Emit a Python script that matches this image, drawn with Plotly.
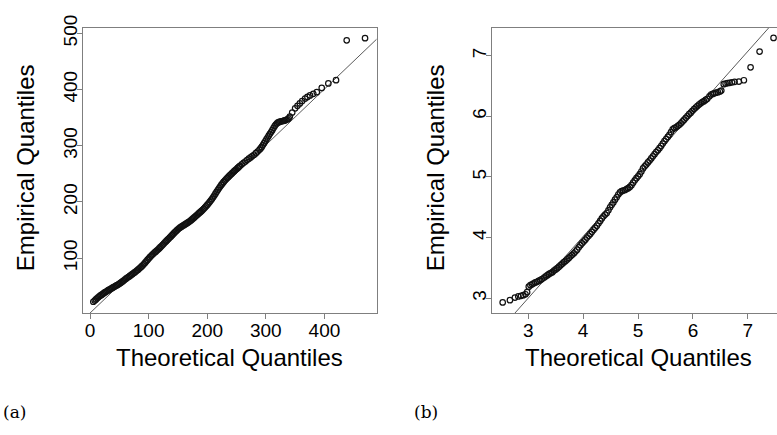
import plotly.graph_objects as go

# ---------------- data ----------------
# Panel (a): theoretical vs empirical quantiles
a_theo = [5.6, 8, 10, 12, 14, 16, 18, 20, 22, 24, 26, 28, 30, 32, 34, 36, 38, 40, 42, 44,
          46, 48, 50, 52, 54, 56, 58, 60, 62, 64, 66, 68, 70, 72, 74, 76, 78, 80, 82, 84,
          86, 88, 90, 92, 94, 96, 98, 100, 102, 104, 106, 108, 110, 112, 114, 116, 118, 120, 122, 124,
          126, 128, 130, 132, 134, 136, 138, 140, 142, 144, 146, 148, 150, 152, 154, 156, 158, 160, 162, 164,
          166, 168, 170, 172, 174, 176, 178, 180, 182, 184, 186, 188, 190, 192, 194, 196, 198, 200, 202, 204,
          206, 208, 210, 212, 214, 216, 218, 220, 222, 224, 226, 228, 230, 232, 234, 236, 238, 240, 242, 244,
          246, 248, 250, 252, 254, 256, 259, 262, 265, 268, 271, 274, 277, 280, 283, 286, 289, 291, 293, 295,
          297, 299, 301, 303, 305, 307, 309, 311, 313, 315, 317, 319, 321, 323, 325, 327, 329, 331, 333, 335,
          337, 339, 341, 345, 350, 354, 358, 362, 367, 371, 375.4, 381, 387, 395.4, 406.7, 419.8, 438, 469.3]
a_emp = [22.3, 24.5, 26.5, 28.5, 30.3, 32, 33.5, 35, 36.5, 38, 39.3, 40.6, 42, 43.3, 44.5, 45.7, 47, 48.2, 49.4, 50.6,
         51.8, 53, 54.3, 55.8, 57.4, 59, 60.6, 62.2, 63.8, 65.3, 66.8, 68.3, 69.8, 71.4, 73, 74.6, 76.2, 77.8, 79.5, 81.3,
         83.2, 85.2, 87.3, 89.5, 91.8, 94.2, 96.7, 99.2, 101.6, 103.8, 105.8, 107.7, 109.6, 111.5, 113.4, 115.3, 117.3, 119.4, 121.6, 123.8,
         126, 128.1, 130.2, 132.3, 134.4, 136.5, 138.6, 140.8, 143, 145.2, 147.3, 149.3, 151.2, 153, 154.6, 156, 157.4, 158.7, 160, 161.3,
         162.6, 164, 165.5, 167.1, 168.8, 170.6, 172.5, 174.4, 176.3, 178.1, 179.9, 181.7, 183.6, 185.6, 187.7, 189.9, 192.2, 194.6, 197.1, 199.7,
         202.4, 205.2, 208.2, 211.4, 214.7, 218, 221.2, 224.3, 227.3, 230.2, 233, 235.6, 238, 240.3, 242.5, 244.6, 246.7, 248.7, 250.7, 252.7,
         254.7, 256.7, 258.6, 260.5, 262.4, 264.3, 267, 269.6, 272, 274.5, 277, 279.3, 281.6, 284, 286.8, 289.8, 292.8, 295.3, 298, 301.2,
         304.6, 308, 311.4, 314.7, 318, 321.2, 324.4, 327.8, 331.4, 334.8, 337.8, 340, 341.6, 342.5, 343.1, 343.6, 344.1, 344.7, 345.4, 346.2,
         347.2, 348.8, 352, 359, 366.6, 371, 375.3, 379.5, 384, 387, 389.6, 392.5, 395.3, 403, 411, 416.8, 487.6, 491.5]

# Panel (b)
b_theo = [2.535, 2.667, 2.758, 2.82, 2.87, 2.91, 2.95, 2.98, 3.01, 3.04, 3.07, 3.10, 3.13, 3.16, 3.19, 3.22, 3.25,
          3.29, 3.32, 3.35, 3.38, 3.41, 3.44, 3.47, 3.50, 3.53, 3.56, 3.59, 3.62, 3.65, 3.68, 3.71, 3.74, 3.77, 3.80,
          3.83, 3.86, 3.89, 3.92, 3.95, 3.98, 4.01, 4.04, 4.07, 4.10, 4.13, 4.16, 4.19, 4.22, 4.25, 4.28, 4.31, 4.34,
          4.37, 4.40, 4.43, 4.46, 4.49, 4.52, 4.55, 4.58, 4.61, 4.64, 4.67, 4.70, 4.73, 4.76, 4.79, 4.82, 4.85, 4.88,
          4.91, 4.94, 4.97, 5.00, 5.03, 5.06, 5.09, 5.12, 5.15, 5.18, 5.21, 5.24, 5.27, 5.30, 5.33, 5.36, 5.39, 5.42,
          5.45, 5.48, 5.51, 5.54, 5.57, 5.60, 5.63, 5.66, 5.69, 5.72, 5.75, 5.78, 5.81, 5.84, 5.87, 5.90, 5.93, 5.96,
          5.99, 6.02, 6.05, 6.08, 6.11, 6.14, 6.17, 6.20, 6.23, 6.26,
          6.30, 6.33, 6.36, 6.39, 6.42, 6.455, 6.49, 6.516, 6.56, 6.594, 6.63, 6.667, 6.71, 6.758, 6.836, 6.927,
          7.049, 7.213, 7.467]
b_emp = [2.931, 2.968, 3.011, 3.03, 3.04, 3.05, 3.065, 3.10, 3.19, 3.215, 3.23, 3.245, 3.26, 3.27, 3.285, 3.30, 3.315,
         3.34, 3.36, 3.38, 3.40, 3.415, 3.43, 3.455, 3.475, 3.495, 3.52, 3.545, 3.57, 3.595, 3.615, 3.64, 3.665, 3.69, 3.715,
         3.74, 3.77, 3.80, 3.84, 3.875, 3.905, 3.935, 3.965, 4.00, 4.03, 4.06, 4.095, 4.13, 4.16, 4.195, 4.235, 4.275, 4.315,
         4.35, 4.38, 4.405, 4.45, 4.50, 4.54, 4.58, 4.625, 4.665, 4.71, 4.745, 4.765, 4.775, 4.785, 4.80, 4.815, 4.835, 4.865,
         4.905, 4.945, 4.98, 5.01, 5.045, 5.09, 5.14, 5.175, 5.205, 5.24, 5.27, 5.305, 5.34, 5.375, 5.41, 5.44, 5.475, 5.51,
         5.55, 5.59, 5.625, 5.66, 5.695, 5.74, 5.785, 5.805, 5.82, 5.84, 5.86, 5.885, 5.915, 5.945, 5.975, 6.005, 6.035, 6.06,
         6.09, 6.12, 6.145, 6.17, 6.195, 6.215, 6.235, 6.25, 6.27, 6.29,
         6.33, 6.36, 6.37, 6.38, 6.39, 6.397, 6.41, 6.424, 6.53, 6.541, 6.548, 6.552, 6.56, 6.568, 6.573, 6.595,
         6.808, 7.067, 7.293]

# reference lines: (intercept, slope)
a_ref = (2.2, 0.9967)
b_ref = (-0.053, 1.018)

a_xticks = [0, 100, 200, 300, 400]
a_yticks = [100, 200, 300, 400, 500]
b_xticks = [3, 4, 5, 6, 7]
b_yticks = [3, 4, 5, 6, 7]

a_xrange = [-12.5, 489.2]
a_yrange = [2.2, 510.4]
b_xrange = [2.335, 7.53]
b_yrange = [2.755, 7.464]

x_title = "Theoretical Quantiles"
y_title = "Empirical Quantiles"
labels = ["(a)", "(b)"]

# ---------------- figure ----------------
W, H = 777, 435
FONT = "Liberation Sans, Arial, Helvetica, sans-serif"
AX = "#7f7f7f"
PT = "#111111"

fig = go.Figure()

marker = dict(symbol="circle-open", size=5.5, color=PT, line=dict(width=1.2, color=PT))

for xr, ref, xa, ya in [(a_xrange, a_ref, "x", "y"), (b_xrange, b_ref, "x2", "y2")]:
    fig.add_trace(go.Scatter(
        x=[xr[0], xr[1]], y=[ref[0] + ref[1] * xr[0], ref[0] + ref[1] * xr[1]],
        mode="lines", line=dict(color="#5a5a5a", width=1), xaxis=xa, yaxis=ya,
        hoverinfo="skip"))

fig.add_trace(go.Scatter(x=a_theo, y=a_emp, mode="markers", marker=marker, xaxis="x", yaxis="y"))
fig.add_trace(go.Scatter(x=b_theo, y=b_emp, mode="markers", marker=marker, xaxis="x2", yaxis="y2"))


def axis(domain, rng, ticks, anchor, mirror=True, angle=None, standoff=0):
    d = dict(domain=domain, range=rng, tickvals=ticks, ticktext=[str(t) for t in ticks],
             ticks="outside", ticklen=5, tickwidth=1, tickcolor=AX,
             showline=True, linecolor=AX, linewidth=1, mirror=mirror,
             showgrid=False, zeroline=False, anchor=anchor,
             ticklabelstandoff=standoff,
             tickfont=dict(family=FONT, size=19, color="#000"))
    if angle is not None:
        d["tickangle"] = angle
    return d


ybot = 1 - 309.3 / H
ytop = 1 - 15 / H

fig.update_layout(
    width=W, height=H, margin=dict(l=0, r=0, t=0, b=0),
    paper_bgcolor="white", plot_bgcolor="white", showlegend=False,
    xaxis=axis([82.7 / W, 376.7 / W], a_xrange, a_xticks, "y", standoff=-5),
    yaxis=axis([ybot, ytop], a_yrange, a_yticks, "x", angle=-90, standoff=-8),
    xaxis2=axis([491.7 / W, 1.0], b_xrange, b_xticks, "y2", standoff=-5),
    yaxis2=axis([ybot, ytop], b_yrange, b_yticks, "x2", mirror=False, angle=-90, standoff=-8),
)

ann = []
for cx in [229.7, 638.3]:
    ann.append(dict(text=x_title, x=cx / W, y=1 - 355 / H, xref="paper", yref="paper",
                    xanchor="center", yanchor="middle", showarrow=False,
                    font=dict(family=FONT, size=24, color="#000")))
for cx in [25, 435]:
    ann.append(dict(text=y_title, x=cx / W, y=1 - 160 / H, xref="paper", yref="paper",
                    xanchor="center", yanchor="middle", showarrow=False, textangle=-90,
                    font=dict(family=FONT, size=24, color="#000")))
for lx, lab in zip([1, 412], labels):
    ann.append(dict(text=lab, x=lx / W, y=1 - 411 / H, xref="paper", yref="paper",
                    xanchor="left", yanchor="middle", showarrow=False,
                    font=dict(family="DejaVu Serif, Liberation Serif, serif", size=17, color="#000")))
fig.update_layout(annotations=ann)

fig.write_html("out.html")
